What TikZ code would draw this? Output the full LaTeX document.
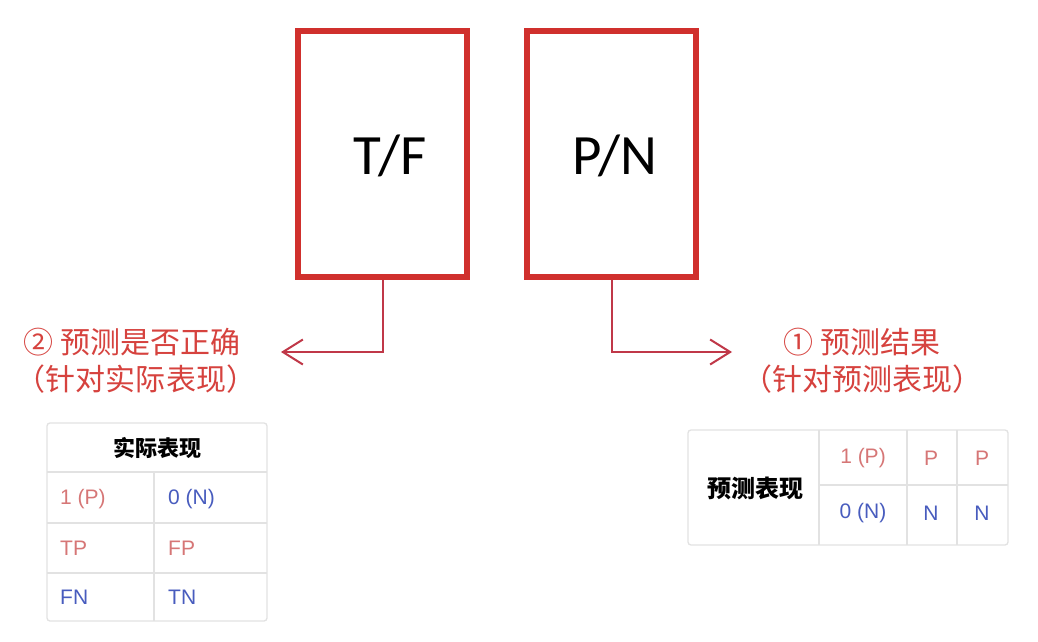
\documentclass[tikz,border=0pt]{standalone}
\usepackage{fontspec}
\setmainfont{Liberation Sans}
\newfontfamily\cjk{Noto Sans CJK SC}
\newfontfamily\carl{Carlito}
\usetikzlibrary{arrows.meta}
\definecolor{boxred}{RGB}{208,48,45}
\definecolor{lnred}{RGB}{192,56,72}
\definecolor{txtred}{RGB}{214,66,62}
\definecolor{cellred}{RGB}{214,118,118}
\definecolor{cellblue}{RGB}{72,92,190}
\definecolor{gridgray}{RGB}{226,226,226}
\tikzset{
  bigbox/.style={draw=boxred, line width=6pt, minimum width=169pt, minimum height=246pt, inner sep=0pt},
  bigtxt/.style={font=\carl\fontsize{57}{60}\selectfont, inner sep=0pt},
  conn/.style={draw=lnred, line width=2pt, -{Straight Barb[length=20pt,width=25pt,line width=2pt]}},
  lbl/.style={text=txtred, font=\cjk\fontsize{30}{34}\selectfont, inner sep=0pt},
  hd/.style={font=\cjk\bfseries\fontsize{22}{25}\selectfont, inner sep=0pt},
  hdb/.style={font=\cjk\bfseries\fontsize{24}{28}\selectfont, inner sep=0pt},
  cr/.style={text=cellred, font=\fontsize{21}{24}\selectfont, inner sep=0pt},
  cb/.style={text=cellblue, font=\fontsize{21}{24}\selectfont, inner sep=0pt},
  gridl/.style={draw=gridgray, line width=1.3pt},
}
\begin{document}
\begin{tikzpicture}[x=1pt,y=-1pt]
\useasboundingbox[fill=white] (0,0) rectangle (1038,642);
% boxes
\node[bigbox] (tf) at (382.5,154) {};
\node[bigbox] (pn) at (611.5,154) {};
\node[bigtxt] (tft) at (390,156) {T/F};
\node[bigtxt] (pnt) at (615,156) {P/N};
% connectors
\coordinate (ltip) at (281,352);
\coordinate (rtip) at (732,352);
\draw[conn] (tf.south) |- (ltip);
\draw[conn] (pn.south) |- (rtip);
% labels
\node[lbl] (l1) at (132,342) {② 预测是否正确};
\node[lbl] (l2) at (136,379) {（针对实际表现）};
\node[lbl] (r1) at (862,342) {① 预测结果};
\node[lbl] (r2) at (862,379) {（针对预测表现）};
% left table
\draw[gridl, rounded corners=3pt] (47,423) rectangle (267,621);
\draw[gridl] (47,472) -- (267,472);
\draw[gridl] (47,523) -- (267,523);
\draw[gridl] (47,573) -- (267,573);
\draw[gridl] (154,472) -- (154,621);
\node[hd] (lh) at (157,448) {实际表现};
\node[cr, anchor=west] (a1) at (60,499) {1 (P)};
\node[cb, anchor=west] (a2) at (168,499) {0 (N)};
\node[cr, anchor=west] (a3) at (60,548) {TP};
\node[cr, anchor=west] (a4) at (168,548) {FP};
\node[cb, anchor=west] (a5) at (60,597) {FN};
\node[cb, anchor=west] (a6) at (168,597) {TN};
% right table
\draw[gridl, rounded corners=3pt] (688,430) rectangle (1008,545);
\draw[gridl] (819,430) -- (819,545);
\draw[gridl] (907,430) -- (907,545);
\draw[gridl] (957,430) -- (957,545);
\draw[gridl] (819,485) -- (1008,485);
\node[hdb] (rh) at (755,488) {预测表现};
\node[cr] (b1) at (863,458) {1 (P)};
\node[cr] (b2) at (931,458) {P};
\node[cr] (b3) at (982,458) {P};
\node[cb] (b4) at (863,513) {0 (N)};
\node[cb] (b5) at (931,513) {N};
\node[cb] (b6) at (982,513) {N};
\end{tikzpicture}
\end{document}
